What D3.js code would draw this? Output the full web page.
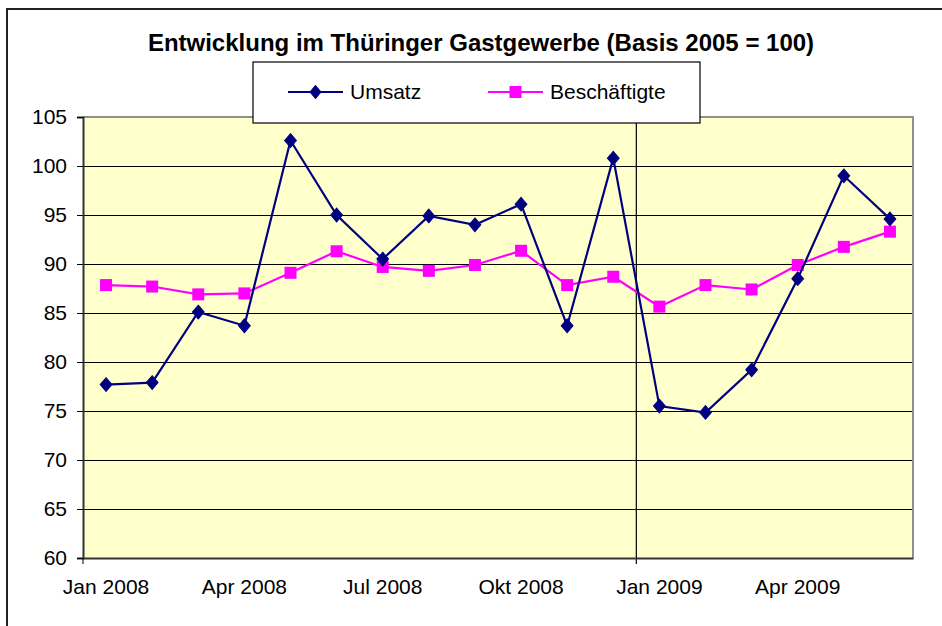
<!DOCTYPE html>
<html>
<head>
<meta charset="utf-8">
<script src="https://cdn.jsdelivr.net/npm/d3@7"></script>
<style>
  body { margin: 0; background: #fff; }
  svg text { font-family: Arial, "Liberation Sans", sans-serif; fill: #000; }
</style>
</head>
<body>
<div id="canvas"></div>
<script>
const months = ["Jan 2008", "Feb 2008", "Mär 2008", "Apr 2008", "Mai 2008", "Jun 2008",
  "Jul 2008", "Aug 2008", "Sep 2008", "Okt 2008", "Nov 2008", "Dez 2008",
  "Jan 2009", "Feb 2009", "Mär 2009", "Apr 2009", "Mai 2009", "Jun 2009"];
const umsatz = [77.7, 77.9, 85.1, 83.7, 102.6, 95.0, 90.5, 94.9, 94.0, 96.1, 83.7, 100.8,
  75.5, 74.85, 79.2, 88.5, 99.0, 94.6];
const beschaeftigte = [87.85, 87.7, 86.9, 87.0, 89.1, 91.3, 89.7, 89.3, 89.9, 91.35, 87.85, 88.7,
  85.65, 87.85, 87.4, 89.9, 91.75, 93.3];
const xTickLabels = ["Jan 2008", "Apr 2008", "Jul 2008", "Okt 2008", "Jan 2009", "Apr 2009"];
const yTicks = [60, 65, 70, 75, 80, 85, 90, 95, 100, 105];
const seriesNames = ["Umsatz", "Beschäftigte"];

const W = 942, H = 626;
const margin = { top: 117, right: 29, bottom: 68, left: 83 };
const width = W - margin.left - margin.right;
const height = H - margin.top - margin.bottom;

const svg = d3.select("#canvas").append("svg")
  .attr("width", W).attr("height", H);

// chart frame
svg.append("path")
  .attr("d", "M7,626 L7,9 L942,9")
  .attr("fill", "none").attr("stroke", "#222").attr("stroke-width", 2);

svg.append("text")
  .attr("x", 481).attr("y", 51)
  .attr("text-anchor", "middle")
  .attr("font-size", 24).attr("font-weight", "bold")
  .text("Entwicklung im Thüringer Gastgewerbe (Basis 2005 = 100)");

const g = svg.append("g")
  .attr("transform", "translate(" + margin.left + "," + margin.top + ")");

const x = d3.scaleBand().domain(months).range([0, width]);
const y = d3.scaleLinear().domain([60, 105]).range([height, 0]);
const cx = d => x(d) + x.bandwidth() / 2;

g.append("rect")
  .attr("width", width).attr("height", height)
  .attr("fill", "#ffffcc");

// gridlines
g.append("g")
  .call(d3.axisLeft(y).tickValues(yTicks.slice(1, -1)).tickSize(-width).tickFormat(""))
  .call(s => s.select(".domain").remove())
  .selectAll("line").attr("stroke", "#000").attr("stroke-width", 1.2);

// year divider
g.append("line")
  .attr("x1", x("Jan 2009")).attr("x2", x("Jan 2009"))
  .attr("y1", 0).attr("y2", height + 6)
  .attr("stroke", "#000").attr("stroke-width", 1.2);

// plot border (top, right)
g.append("path")
  .attr("d", "M0,0 H" + width + " V" + height)
  .attr("fill", "none").attr("stroke", "#909090").attr("stroke-width", 2);

// y axis
const yAxis = g.append("g")
  .call(d3.axisLeft(y).tickValues(yTicks).tickSize(6).tickPadding(10));
yAxis.selectAll("text").attr("font-size", 21).attr("font-family", "Arial, 'Liberation Sans', sans-serif");
yAxis.selectAll("line").attr("stroke", "#000");
yAxis.select(".domain").attr("stroke", "#333").attr("stroke-width", 2);

// x axis
const xAxis = g.append("g")
  .attr("transform", "translate(0," + height + ")")
  .call(d3.axisBottom(x).tickValues(xTickLabels).tickSize(0).tickPadding(21));
xAxis.selectAll("text").attr("font-size", 21).attr("font-family", "Arial, 'Liberation Sans', sans-serif");
xAxis.select(".domain").attr("stroke", "#333").attr("stroke-width", 2);
g.append("line")
  .attr("x1", 0).attr("x2", 0).attr("y1", height).attr("y2", height + 6)
  .attr("stroke", "#000");

// lines
const line = d3.line().x((d, i) => cx(months[i])).y(d => y(d));

g.append("path").datum(beschaeftigte)
  .attr("d", line).attr("fill", "none")
  .attr("stroke", "#ff00ff").attr("stroke-width", 2.2);
g.selectAll(".sq").data(beschaeftigte).enter().append("rect")
  .attr("class", "sq")
  .attr("x", (d, i) => cx(months[i]) - 6)
  .attr("y", d => y(d) - 6)
  .attr("width", 12).attr("height", 12)
  .attr("fill", "#ff00ff");

g.append("path").datum(umsatz)
  .attr("d", line).attr("fill", "none")
  .attr("stroke", "#000080").attr("stroke-width", 2.2);
const diamond = d3.symbol().type(d3.symbolDiamond2).size(110);
g.selectAll(".dm").data(umsatz).enter().append("path")
  .attr("class", "dm")
  .attr("d", diamond)
  .attr("transform", (d, i) => "translate(" + cx(months[i]) + "," + y(d) + ") scale(0.9,1.05)")
  .attr("fill", "#000080").attr("stroke", "#000080").attr("stroke-width", 1);

// legend
const legend = svg.append("g");
legend.append("rect")
  .attr("x", 253).attr("y", 62).attr("width", 447).attr("height", 61)
  .attr("fill", "#fff").attr("stroke", "#000").attr("stroke-width", 1.2);

const legendItems = [
  { name: seriesNames[0], color: "#000080", x: 288, shape: "diamond" },
  { name: seriesNames[1], color: "#ff00ff", x: 488, shape: "square" }
];
legendItems.forEach(it => {
  const ly = 92;
  legend.append("line")
    .attr("x1", it.x).attr("x2", it.x + 55).attr("y1", ly).attr("y2", ly)
    .attr("stroke", it.color).attr("stroke-width", 2);
  if (it.shape === "diamond") {
    legend.append("path").attr("d", d3.symbol().type(d3.symbolDiamond2).size(95))
      .attr("transform", "translate(" + (it.x + 27.5) + "," + ly + ") scale(0.9,1.05)")
      .attr("fill", it.color).attr("stroke", it.color).attr("stroke-width", 1);
  } else {
    legend.append("rect")
      .attr("x", it.x + 21.5).attr("y", ly - 6).attr("width", 12).attr("height", 12)
      .attr("fill", it.color);
  }
  legend.append("text")
    .attr("x", it.x + 62).attr("y", ly + 7)
    .attr("font-size", 21)
    .text(it.name);
});
</script>
</body>
</html>
